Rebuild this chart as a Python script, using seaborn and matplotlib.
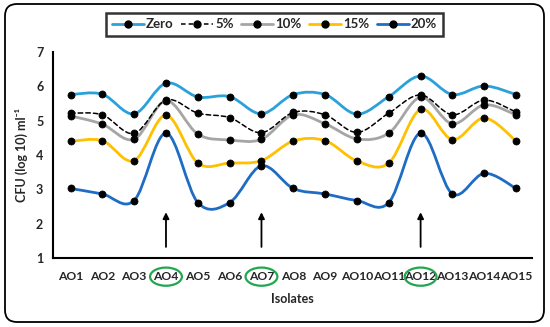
import numpy as np
import pandas as pd
import seaborn as sns
import matplotlib
matplotlib.use("Agg")
import matplotlib.pyplot as plt
from matplotlib.path import Path
from matplotlib.patches import PathPatch, Ellipse, FancyBboxPatch
from matplotlib.lines import Line2D
import matplotlib.transforms as mtransforms

# --- Data ---
isolates = ["AO1", "AO2", "AO3", "AO4", "AO5", "AO6", "AO7", "AO8",
            "AO9", "AO10", "AO11", "AO12", "AO13", "AO14", "AO15"]
zero = [5.76, 5.77, 5.20, 6.09, 5.69, 5.70, 5.20, 5.76, 5.76, 5.19, 5.70, 6.30, 5.76, 6.01, 5.76]
p5 = [5.22, 5.17, 4.63, 5.60, 5.22, 5.09, 4.65, 5.24, 5.17, 4.66, 5.22, 5.75, 5.17, 5.60, 5.25]
p10 = [5.14, 4.90, 4.46, 5.58, 4.61, 4.44, 4.46, 5.17, 4.91, 4.47, 4.64, 5.68, 4.91, 5.46, 5.17]
p15 = [4.40, 4.42, 3.84, 5.16, 3.77, 3.77, 3.84, 4.41, 4.42, 3.83, 3.77, 5.33, 4.45, 5.08, 4.41]
p20 = [3.03, 2.87, 2.68, 4.64, 2.62, 2.62, 3.69, 3.03, 2.87, 2.68, 2.62, 4.64, 2.87, 3.47, 3.03]
series_names = ["Zero", "5%", "10%", "15%", "20%"]
highlighted = ["AO4", "AO7", "AO12"]

colors = {"Zero": "#2AA1DB", "5%": "black", "10%": "#A5A5A5", "15%": "#FFC000", "20%": "#1F6CC4"}
styles = {"Zero": "-", "5%": (0, (3, 2)), "10%": "-", "15%": "-", "20%": "-"}
widths = {"Zero": 2.0, "5%": 1.1, "10%": 2.0, "15%": 2.0, "20%": 2.0}

sns.set_style("white")
plt.rcParams["font.family"] = ["Lato", "DejaVu Sans"]
plt.rcParams["font.weight"] = "bold"

fig = plt.figure(figsize=(5.5, 3.27), dpi=100)
ax = fig.add_axes([53 / 550, 1 - 258.3 / 327, (532 - 53) / 550, (258.3 - 51.9) / 327])


def smooth_path(xs, ys):
    # Excel style smoothed line: Catmull-Rom segments as cubic Bezier curves
    pts = np.column_stack([xs, ys]).astype(float)
    n = len(pts)
    verts = [pts[0]]
    codes = [Path.MOVETO]
    for i in range(n - 1):
        p0 = pts[max(i - 1, 0)]
        p1 = pts[i]
        p2 = pts[i + 1]
        p3 = pts[min(i + 2, n - 1)]
        verts += [p1 + (p2 - p0) / 6, p2 - (p3 - p1) / 6, p2]
        codes += [Path.CURVE4] * 3
    return Path(verts, codes)


values = {"Zero": zero, "5%": p5, "10%": p10, "15%": p15, "20%": p20}
x = np.arange(len(isolates))
# draw from bottom to top like the reference
for name in ["20%", "15%", "10%", "5%", "Zero"]:
    patch = PathPatch(smooth_path(x, values[name]), fill=False, edgecolor=colors[name],
                      lw=widths[name], linestyle=styles[name], capstyle="round", zorder=2)
    ax.add_patch(patch)

df = pd.DataFrame({"x": np.tile(x, len(series_names)),
                   "y": np.concatenate([values[s] for s in series_names])})
sns.scatterplot(data=df, x="x", y="y", color="black", s=26, edgecolor="black",
                linewidth=0.5, zorder=3, ax=ax)

ax.set_xlim(-0.55, 14.5)
ax.set_ylim(1, 7)
ax.set_xticks(x)
ax.set_xticklabels(isolates, fontsize=8.7, fontweight="bold")
ax.set_yticks(range(1, 8))
ax.set_yticklabels([str(v) for v in range(1, 8)], fontsize=9, fontweight="bold")
ax.tick_params(axis="x", direction="in", length=4, width=1.2, pad=9, color="black")
ax.tick_params(axis="y", direction="out", length=4, width=1.2, pad=3, color="black")
for side in ["top", "right"]:
    ax.spines[side].set_visible(False)
for side in ["left", "bottom"]:
    ax.spines[side].set_color("black")
    ax.spines[side].set_linewidth(1.5)

ax.set_xlabel("Isolates", fontsize=9, fontweight="bold", labelpad=8)
ax.set_ylabel("CFU (log 10) ml⁻¹", fontsize=9, fontweight="bold", labelpad=6)

# arrows pointing at the highlighted isolates
for iso in highlighted:
    xi = isolates.index(iso)
    ax.annotate("", xy=(xi, 2.42), xytext=(xi, 1.25),
                arrowprops=dict(arrowstyle="-|>", color="black", lw=1.3, mutation_scale=9))

# green ellipses round the highlighted tick labels
trans = mtransforms.blended_transform_factory(ax.transData, ax.transAxes)
for iso in highlighted:
    xi = isolates.index(iso)
    ax.add_patch(Ellipse((xi, -0.089), 1.0, 0.088, transform=trans, fill=False,
                         edgecolor="#22A650", lw=1.6, clip_on=False))

# legend
handles = [Line2D([], [], color=colors[s], lw=widths[s], linestyle=styles[s], marker="o",
                  markersize=5, markerfacecolor="black", markeredgecolor="black")
           for s in series_names]
leg = fig.legend(handles, series_names, loc="center", ncol=5,
                 bbox_to_anchor=(274.5 / 550, 1 - 24.5 / 327), frameon=True,
                 fancybox=False, edgecolor="black", fontsize=9.5, handlelength=2.4,
                 handletextpad=0.15, columnspacing=0.6, borderpad=0.45)
leg.get_frame().set_linewidth(1.8)
for t in leg.get_texts():
    t.set_fontweight("bold")

# rounded frame round the whole chart
frame = FancyBboxPatch((5 / 100, (327 - 322) / 100), (544 - 5) / 100, (322 - 4) / 100,
                       boxstyle="round,pad=0,rounding_size=0.12", transform=fig.dpi_scale_trans,
                       fill=False, edgecolor="black", lw=1.3)
fig.patches.append(frame)

fig.savefig("out.png", dpi=100)
